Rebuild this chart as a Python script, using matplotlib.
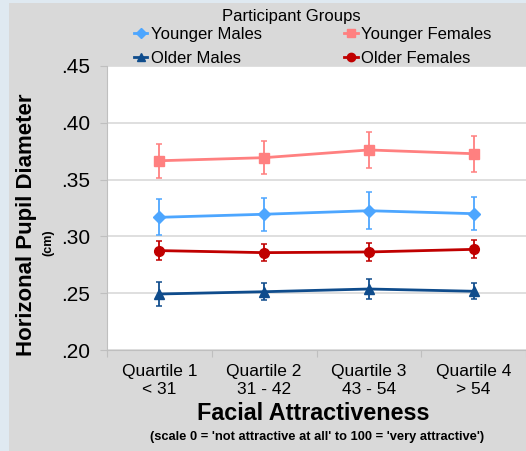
import matplotlib
matplotlib.use("Agg")
import matplotlib.pyplot as plt
from matplotlib.patches import Rectangle

plt.rcParams["font.family"] = ["Liberation Sans", "DejaVu Sans"]

# Data
quartiles = ["Quartile 1\n< 31", "Quartile 2\n31 - 42", "Quartile 3\n43 - 54", "Quartile 4\n> 54"]
young_male = [0.3168, 0.3195, 0.3226, 0.3200]
young_male_err = [0.0157, 0.0147, 0.0161, 0.0147]
young_female = [0.3666, 0.3693, 0.3761, 0.3728]
young_female_err = [0.0151, 0.0147, 0.0161, 0.0157]
old_male = [0.2493, 0.2513, 0.2537, 0.2517]
old_male_err = [0.0107, 0.0073, 0.0088, 0.0070]
old_female = [0.2875, 0.2857, 0.2863, 0.2886]
old_female_err = [0.0082, 0.0072, 0.0078, 0.0079]
yticks = [0.20, 0.25, 0.30, 0.35, 0.40, 0.45]

# Colors
BG = "#dfe9f1"
PANEL = "#d9d9d9"
LBLUE = "#4da6ff"
PINK = "#ff8080"
DBLUE = "#0f4c8c"
DRED = "#c00000"
GRID = "#d9d9d9"

W, H = 526, 451
fig = plt.figure(figsize=(W / 100, H / 100), dpi=100, facecolor=BG)
panel = Rectangle((9 / W, 0), 1 - 9 / W, (H - 3) / H, transform=fig.transFigure,
                  facecolor=PANEL, edgecolor="none", zorder=-10)
fig.add_artist(panel)

ax = fig.add_axes([107 / W, (H - 350) / H, (W - 107) / W, (350 - 66) / H])
ax.set_facecolor("white")

x = list(range(len(quartiles)))
series = [
    ("Younger Males", young_male, young_male_err, LBLUE, "D", 6),
    ("Younger Females", young_female, young_female_err, PINK, "s", 7),
    ("Older Males", old_male, old_male_err, DBLUE, "^", 7),
    ("Older Females", old_female, old_female_err, DRED, "o", 7),
]
handles = {}
for name, vals, err, col, mk, ms in series:
    ax.errorbar(x, vals, yerr=err, color=col, ecolor=col, elinewidth=1.3, capsize=2,
                capthick=1.1, lw=2, marker=mk, ms=ms, zorder=3)
    h, = ax.plot([], [], color=col, lw=2, marker=mk, ms=ms - 1)
    handles[name] = h

ax.set_ylim(0.20, 0.45)
ax.set_yticks(yticks)
ax.set_yticklabels([f"{t:.2f}"[1:] for t in yticks], fontsize=15)
ax.set_xlim(-0.5, 3.46)
ax.set_xticks([-0.5, 0.5, 1.5, 2.5, 3.5])
ax.set_xticklabels([])
ax.set_xticks(x, minor=True)
ax.set_xticklabels(quartiles, minor=True, fontsize=12.5, linespacing=1.3)
ax.tick_params(axis="x", which="minor", length=0, pad=10)
ax.tick_params(axis="x", which="major", length=5, color="#bfbfbf")
ax.tick_params(axis="y", length=5, color="#bfbfbf", pad=7)
ax.grid(axis="y", color=GRID, lw=1.2, zorder=0)
ax.set_axisbelow(True)
for s in ["top", "right"]:
    ax.spines[s].set_visible(False)
for s in ["left", "bottom"]:
    ax.spines[s].set_color("#bfbfbf")

# Axis labels
fig.text(27 / W, 1 - 225 / H, "Horizonal Pupil Diameter", rotation=90, fontsize=16,
         fontweight="bold", ha="center", va="center")
fig.text(48 / W, 1 - 243 / H, "(cm)", rotation=90, fontsize=9, fontweight="bold",
         ha="center", va="center")
fig.text(313 / W, 1 - 413 / H, "Facial Attractiveness", fontsize=16.8, fontweight="bold",
         ha="center", va="center")
fig.text(317 / W, 1 - 437 / H, "(scale 0 = 'not attractive at all' to 100 = 'very attractive')",
         fontsize=9.3, fontweight="bold", ha="center", va="center")

# Legend
fig.text(291 / W, 1 - 16 / H, "Participant Groups", fontsize=12, ha="center", va="center")
order = ["Younger Males", "Older Males", "Younger Females", "Older Females"]
fig.legend([handles[n] for n in order], order, ncol=2, loc="upper left",
           bbox_to_anchor=(134 / W, 1 - 27 / H), frameon=False, fontsize=12,
           handlelength=0.8, handletextpad=0.2, columnspacing=4.95, labelspacing=0.55,
           borderpad=0, borderaxespad=0)

fig.savefig("out.png", dpi=100, facecolor=BG)
